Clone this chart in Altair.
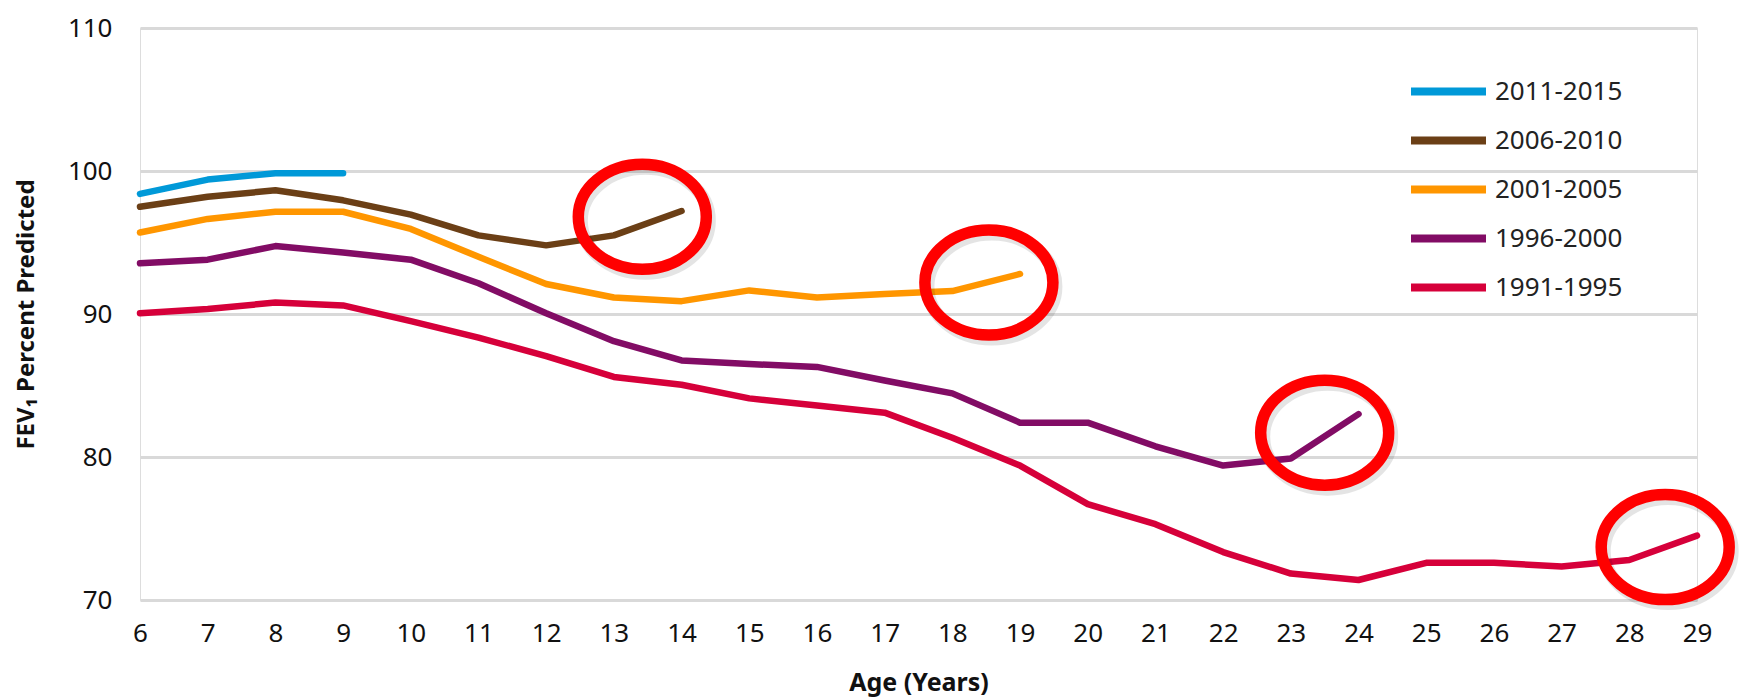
import altair as alt
import pandas as pd

# ---- data ----
periods = ["2011-2015", "2006-2010", "2001-2005", "1996-2000", "1991-1995"]
colors = ["#0099d8", "#6b3f16", "#ff9600", "#820c65", "#d6003a"]
start_age = 6

fev_2011_2015 = [98.4, 99.4, 99.85, 99.85]
fev_2006_2010 = [97.5, 98.2, 98.65, 97.95, 96.95, 95.5, 94.8, 95.5, 97.2]
fev_2001_2005 = [95.7, 96.65, 97.15, 97.15, 95.95, 94.0, 92.1, 91.15, 90.9, 91.65,
                 91.15, 91.4, 91.6, 92.8]
fev_1996_2000 = [93.55, 93.8, 94.75, 94.3, 93.8, 92.15, 90.05, 88.1, 86.75, 86.5,
                 86.3, 85.35, 84.45, 82.4, 82.4, 80.75, 79.4, 79.9, 83.0]
fev_1991_1995 = [90.05, 90.35, 90.8, 90.6, 89.5, 88.35, 87.05, 85.6, 85.05, 84.1,
                 83.6, 83.1, 81.35, 79.4, 76.7, 75.3, 73.35, 71.85, 71.4, 72.6,
                 72.6, 72.35, 72.8, 74.5]

x_ticks = list(range(6, 30))
y_ticks = [70, 80, 90, 100, 110]

# annotation ellipses (centres, in data units)
circle_age = [13.42, 18.54, 23.5, 28.53]
circle_fev = [96.8, 92.2, 81.7, 73.7]

series = [fev_2011_2015, fev_2006_2010, fev_2001_2005, fev_1996_2000, fev_1991_1995]
rows = []
for p, vals in zip(periods, series):
    for i, v in enumerate(vals):
        rows.append({"period": p, "age": start_age + i, "fev": v})
df = pd.DataFrame(rows)
circ = pd.DataFrame({"age": circle_age, "fev": circle_fev})

FONT = "Noto Sans"
H = 572

x_enc = alt.X("age:Q",
              scale=alt.Scale(domain=[6, 29], nice=False, zero=False),
              axis=alt.Axis(values=x_ticks, format="d", grid=False, domain=False, ticks=False,
                            labelPadding=20, labelFontSize=26, labelFont=FONT,
                            labelColor="#111111", title="Age (Years)",
                            titleFont=FONT, titleFontSize=25, titleFontWeight="bold",
                            titleColor="#111111", titlePadding=24, labelFlush=False))
y_enc = alt.Y("fev:Q",
              scale=alt.Scale(domain=[70, 110], nice=False, zero=False),
              axis=alt.Axis(values=y_ticks, grid=True, gridColor="#d9d9d9", gridWidth=3,
                            domain=False, ticks=False, labelPadding=28,
                            labelFontSize=26, labelFont=FONT, labelColor="#111111",
                            title="FEV\u2081 Percent Predicted", titleFont=FONT,
                            titleFontSize=24, titleFontWeight="bold", titleColor="#111111",
                            titleX=-114, titleY=H / 2, titleAngle=270, titleAlign="center",
                            titleBaseline="middle"))

# long horizontal legend stroke drawn from a small symbol box
LEG_LINE = "M-3,0H3"

lines = alt.Chart(df).mark_line(strokeWidth=6.5, strokeCap="round", strokeJoin="round").encode(
    x=x_enc,
    y=y_enc,
    color=alt.Color("period:N",
                    scale=alt.Scale(domain=periods, range=colors),
                    sort=periods,
                    legend=alt.Legend(title=None, orient="none", legendX=1292, legendY=47,
                                      symbolType=LEG_LINE, symbolSize=625,
                                      symbolStrokeWidth=8, labelFontSize=26, labelFont=FONT,
                                      labelColor="#222222", labelOffset=30, rowPadding=16)),
    detail="period:N",
)

ELLIPSE = "M-1,0A1,0.82,0,1,0,1,0A1,0.82,0,1,0,-1,0Z"

shadow = alt.Chart(circ).mark_point(shape=ELLIPSE, size=16384, filled=False, stroke="#000000",
                                    strokeWidth=13, opacity=0.10, xOffset=3, yOffset=4).encode(
    x="age:Q", y="fev:Q")
rings = alt.Chart(circ).mark_point(shape=ELLIPSE, size=16384, filled=False, stroke="#ff0000",
                                   strokeWidth=11.5, opacity=1).encode(
    x="age:Q", y="fev:Q")

chart = alt.layer(lines, shadow, rings).properties(
    width=1557, height=H,
    autosize=alt.AutoSizeParams(type="none"),
    padding={"left": 132, "top": 20, "right": 47, "bottom": 100},
).configure_view(stroke=None).configure(background="white")

chart.save("out.html", embed_options={"renderer": "svg", "actions": False})
